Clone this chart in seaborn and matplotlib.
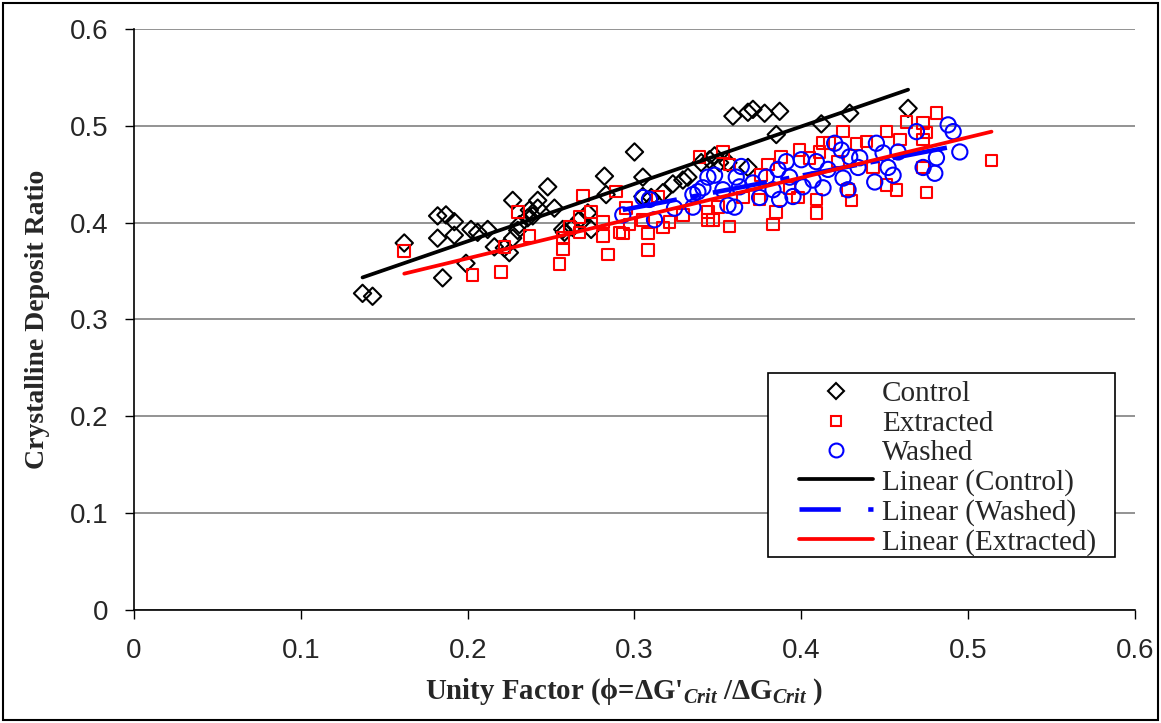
import numpy as np
import matplotlib
matplotlib.use("Agg")
import matplotlib.pyplot as plt
import seaborn as sns
from matplotlib.lines import Line2D
from matplotlib.patches import Rectangle

# Control (diamonds)
control_x = [0.137, 0.143, 0.162, 0.182, 0.187, 0.182, 0.185, 0.192, 0.192, 0.199,
             0.202, 0.206, 0.212, 0.216, 0.222, 0.225, 0.227, 0.227, 0.230, 0.231,
             0.236, 0.239, 0.242, 0.248, 0.252, 0.258, 0.263, 0.267, 0.272, 0.274,
             0.282, 0.283, 0.300, 0.305, 0.305, 0.310, 0.317, 0.323, 0.329, 0.332,
             0.340, 0.345, 0.348, 0.351, 0.356, 0.359, 0.368, 0.371, 0.378, 0.387,
             0.385, 0.368, 0.412, 0.429, 0.464, 0.242, 0.237, 0.257]
control_y = [0.327, 0.324, 0.379, 0.407, 0.408, 0.384, 0.343, 0.401, 0.387, 0.358,
             0.393, 0.390, 0.393, 0.375, 0.374, 0.369, 0.423, 0.384, 0.392, 0.398,
             0.405, 0.407, 0.415, 0.437, 0.415, 0.390, 0.395, 0.403, 0.410, 0.393,
             0.448, 0.429, 0.473, 0.447, 0.427, 0.426, 0.431, 0.440, 0.444, 0.447,
             0.462, 0.465, 0.469, 0.462, 0.462, 0.510, 0.514, 0.517, 0.513, 0.515,
             0.491, 0.457, 0.502, 0.513, 0.518, 0.423, 0.413, 0.393]

# Extracted (squares)
extracted_x = [0.162, 0.203, 0.220, 0.230, 0.222, 0.237, 0.255, 0.257, 0.257, 0.261,
               0.267, 0.267, 0.269, 0.274, 0.281, 0.281, 0.284, 0.289, 0.291, 0.293,
               0.295, 0.297, 0.308, 0.308, 0.317, 0.321, 0.314, 0.329, 0.339, 0.344,
               0.344, 0.305, 0.353, 0.399, 0.411, 0.413, 0.357, 0.388, 0.376, 0.405,
               0.380, 0.357, 0.383, 0.409, 0.347, 0.385, 0.375, 0.398, 0.409, 0.350,
               0.365, 0.393, 0.481, 0.463, 0.473, 0.475, 0.473, 0.425, 0.451, 0.433,
               0.439, 0.459, 0.417, 0.422, 0.443, 0.473, 0.451, 0.457, 0.428, 0.430,
               0.475, 0.514]
extracted_y = [0.371, 0.346, 0.349, 0.411, 0.375, 0.386, 0.357, 0.373, 0.384, 0.396,
               0.406, 0.390, 0.428, 0.411, 0.401, 0.386, 0.367, 0.432, 0.390, 0.389,
               0.415, 0.398, 0.372, 0.389, 0.395, 0.401, 0.427, 0.408, 0.468, 0.411,
               0.403, 0.403, 0.473, 0.475, 0.473, 0.482, 0.460, 0.468, 0.449, 0.467,
               0.460, 0.396, 0.398, 0.410, 0.403, 0.411, 0.424, 0.426, 0.424, 0.416,
               0.426, 0.436, 0.513, 0.504, 0.503, 0.493, 0.486, 0.494, 0.494, 0.481,
               0.484, 0.486, 0.482, 0.463, 0.457, 0.457, 0.439, 0.434, 0.434, 0.423,
               0.431, 0.464]

# Washed (circles)
washed_x = [0.293, 0.305, 0.309, 0.312, 0.324, 0.335, 0.335, 0.338, 0.341, 0.344,
            0.348, 0.353, 0.356, 0.360, 0.361, 0.364, 0.363, 0.371, 0.379, 0.383,
            0.387, 0.386, 0.391, 0.393, 0.395, 0.400, 0.401, 0.407, 0.409, 0.413,
            0.416, 0.375, 0.420, 0.424, 0.425, 0.429, 0.435, 0.434, 0.428, 0.444,
            0.445, 0.449, 0.452, 0.455, 0.458, 0.469, 0.473, 0.480, 0.481, 0.488,
            0.491, 0.495]
washed_y = [0.408, 0.426, 0.424, 0.403, 0.415, 0.429, 0.416, 0.432, 0.436, 0.447,
            0.449, 0.434, 0.418, 0.416, 0.447, 0.458, 0.437, 0.441, 0.447, 0.434,
            0.424, 0.455, 0.463, 0.447, 0.427, 0.465, 0.437, 0.444, 0.463, 0.436,
            0.455, 0.426, 0.482, 0.475, 0.446, 0.468, 0.467, 0.457, 0.434, 0.442,
            0.482, 0.472, 0.457, 0.449, 0.473, 0.494, 0.457, 0.451, 0.467, 0.501,
            0.494, 0.473]

sns.set_style("white")
plt.rcParams["font.family"] = ["Liberation Sans", "DejaVu Sans"]
plt.rcParams["mathtext.fontset"] = "custom"
plt.rcParams["mathtext.rm"] = "Liberation Serif:bold"
plt.rcParams["mathtext.bf"] = "Liberation Serif:bold"
plt.rcParams["mathtext.it"] = "Liberation Serif:bold:italic"

serif = ["Liberation Serif", "DejaVu Serif"]

fig = plt.figure(figsize=(11.61, 7.23), dpi=100)
ax = fig.add_axes([0.1154, 0.1563, 0.8622, 0.8036])

sns.scatterplot(x=control_x, y=control_y, marker="D", s=78, facecolor="none",
                edgecolor="black", linewidth=1.5, ax=ax, zorder=3)
sns.scatterplot(x=extracted_x, y=extracted_y, marker="s", s=70, facecolor="none",
                edgecolor="#ff0000", linewidth=1.5, ax=ax, zorder=3)
sns.scatterplot(x=washed_x, y=washed_y, marker="o", s=120, facecolor="none",
                edgecolor="#0000ff", linewidth=1.5, ax=ax, zorder=3)

# Excel-style linear trendlines
sns.regplot(x=control_x, y=control_y, scatter=False, ci=None, truncate=True,
            color="black", line_kws=dict(lw=2.7, zorder=4), ax=ax)
sns.regplot(x=washed_x, y=washed_y, scatter=False, ci=None, truncate=True,
            color="#0000ff", line_kws=dict(lw=3.3, ls=(0, (12, 3, 2, 3)), zorder=4), ax=ax)
sns.regplot(x=extracted_x, y=extracted_y, scatter=False, ci=None, truncate=True,
            color="#ff0000", line_kws=dict(lw=2.7, zorder=4), ax=ax)

ax.set_xlim(0, 0.6)
ax.set_ylim(0, 0.6)
ax.set_xticks(np.arange(0, 0.61, 0.1))
ax.set_yticks(np.arange(0, 0.61, 0.1))
ax.set_xticklabels(["0", "0.1", "0.2", "0.3", "0.4", "0.5", "0.6"])
ax.set_yticklabels(["0", "0.1", "0.2", "0.3", "0.4", "0.5", "0.6"])
ax.yaxis.grid(True, color="#808080", lw=1.2)
ax.xaxis.grid(False)
for side in ["top", "right"]:
    ax.spines[side].set_visible(False)
for side in ["left", "bottom"]:
    ax.spines[side].set_color("black")
    ax.spines[side].set_linewidth(1.2)
ax.tick_params(axis="both", direction="out", length=6.5, width=1, color="black",
               labelsize=20, bottom=True, left=True)
ax.tick_params(axis="x", pad=14)
ax.tick_params(axis="y", pad=12)

ax.set_xlabel("Unity Factor (ϕ=ΔG'$_{Crit}$ /ΔG$_{Crit}$ )", family=serif,
              fontweight="bold", fontsize=20.8, labelpad=10)
ax.xaxis.set_label_coords(0.49, -0.115)
ax.set_ylabel("Crystalline Deposit Ratio", family=serif,
              fontweight="bold", fontsize=20, labelpad=14)

# legend frame drawn separately so it can be wider than the entries
ax.add_patch(Rectangle((0.633, 0.091), 0.347, 0.317, transform=ax.transAxes,
                       facecolor="white", edgecolor="black", lw=1.2, zorder=5))
handles = [
    Line2D([], [], marker="D", ls="none", mfc="none", mec="black", ms=8, mew=1.5),
    Line2D([], [], marker="s", ls="none", mfc="none", mec="#ff0000", ms=6.5, mew=1.5),
    Line2D([], [], marker="o", ls="none", mfc="none", mec="#0000ff", ms=10, mew=1.5),
    Line2D([], [], color="black", lw=2.7),
    Line2D([], [], color="#0000ff", lw=3.3, ls=(0, (9, 6, 2, 6))),
    Line2D([], [], color="#ff0000", lw=2.7),
]
labels = ["Control", "Extracted", "Washed", "Linear (Control)",
          "Linear (Washed)", "Linear (Extracted)"]
leg = ax.legend(handles, labels, loc="upper left", bbox_to_anchor=(0.664, 0.394),
                frameon=False, borderaxespad=0, borderpad=0, handlelength=2.55,
                handletextpad=0.3, labelspacing=0.1,
                prop=dict(family=serif, size=21))
leg.set_zorder(6)

fig.patches.append(Rectangle((0.003, 0.004), 0.994, 0.992, transform=fig.transFigure,
                             fill=False, edgecolor="black", lw=1.5))

fig.savefig("out.png", dpi=100)
